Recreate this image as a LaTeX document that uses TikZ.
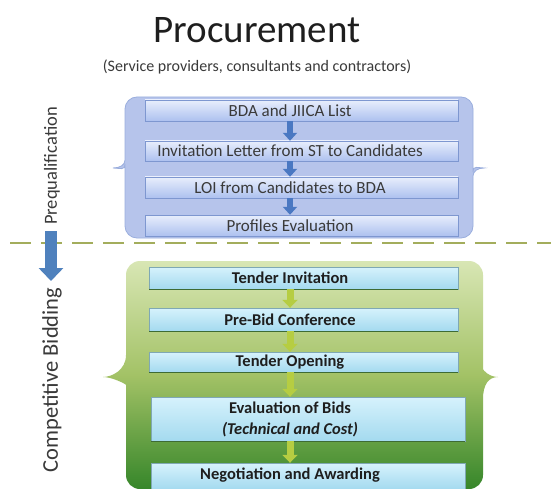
\documentclass[tikz,border=0pt]{standalone}
\usepackage{fontspec}
\setmainfont{Carlito}
\usetikzlibrary{arrows.meta}

\definecolor{inkdark}{HTML}{1E1E1E}
\definecolor{inkgray}{HTML}{3A3A3A}
\definecolor{bluepanel}{HTML}{B6C4EB}
\definecolor{bluepaneledge}{HTML}{9AAEDD}
\definecolor{boxtop}{HTML}{E8EEFC}
\definecolor{boxbot}{HTML}{ADC1EF}
\definecolor{boxedge}{HTML}{7E97D0}
\definecolor{stepblue}{HTML}{4A78C2}
\definecolor{dashgreen}{HTML}{A3AD5C}
\definecolor{bigblue}{HTML}{4F81BD}
\definecolor{greentop}{HTML}{D8E6B4}
\definecolor{greenmid}{HTML}{A3C266}
\definecolor{greenbot}{HTML}{36862A}
\definecolor{cyantop}{HTML}{D6F2FC}
\definecolor{cyanbot}{HTML}{A4DAEF}
\definecolor{cyanedge}{HTML}{7FA8B4}
\definecolor{shadowgreen}{HTML}{3E6B34}
\definecolor{stepgreen}{HTML}{B6CD42}

\tikzset{
  titletext/.style={inner sep=0pt, text=inkdark, font=\fontsize{39}{39}\selectfont},
  subtext/.style={inner sep=0pt, text=inkgray, font=\fontsize{16}{16}\selectfont},
  sidelabel/.style={rotate=90, inner sep=0pt, text=inkgray},
  bluetext/.style={inner sep=0pt, text=inkgray, font=\fontsize{17}{17}\selectfont},
  greentext/.style={inner sep=0pt, text=inkdark, align=center, font=\fontsize{16.5}{21}\selectfont\bfseries},
  bluepanelstyle/.style={fill=bluepanel, draw=bluepaneledge, line width=0.8pt},
  greenpanelstyle/.style={top color=greentop, bottom color=greenbot, middle color=greenmid},
  bluebox/.style={top color=boxtop, bottom color=boxbot, draw=boxedge, line width=0.6pt},
  cyanbox/.style={top color=cyantop, bottom color=cyanbot, draw=cyanedge, line width=0.5pt},
  boxshadow/.style={draw=shadowgreen, line width=1.3pt},
  bluestep/.style={draw=stepblue, line width=6pt, -{Triangle[width=14pt,length=8pt]}},
  greenstep/.style={draw=stepgreen, line width=7pt, -{Triangle[width=15pt,length=8pt]}},
  phasearrow/.style={draw=bigblue, line width=12pt, -{Triangle[width=24pt,length=13pt]}},
  divider/.style={draw=dashgreen, line width=2.5pt, dash pattern=on 21pt off 10pt},
}

\begin{document}
\begin{tikzpicture}[x=1pt, y=-1pt]
\useasboundingbox (0,0) rectangle (551,489);
\fill[white] (0,0) rectangle (551,489);

% heading
\node[titletext, anchor=base] (title) at (257,43) {Procurement};
\node[subtext, anchor=base] (subtitle) at (257,72) {(Service providers, consultants and contractors)};

% prequalification panel with brace points
\path[bluepanelstyle] (125,160) [rounded corners=12pt] -- (125,97) -- (473,97) -- (473,160) [sharp corners]
  .. controls (473,165) and (478,168) .. (484,168)
  .. controls (478,168) and (473,171) .. (473,176) [rounded corners=12pt]
  -- (473,238) -- (125,238) -- (125,176) [sharp corners]
  .. controls (125,171) and (120,168) .. (113,168)
  .. controls (120,168) and (125,165) .. (125,160) -- cycle;

% competitive bidding panel with brace points
\path[greenpanelstyle] (126,355) [rounded corners=14pt] -- (126,261) -- (483,261) -- (483,355) [sharp corners]
  .. controls (483,370) and (489,377) .. (498,377)
  .. controls (489,377) and (483,384) .. (483,399) [rounded corners=14pt]
  -- (483,489) -- (126,489) -- (126,399) [sharp corners]
  .. controls (126,384) and (112,377) .. (103,377)
  .. controls (112,377) and (126,370) .. (126,355) -- cycle;

% prequalification step boxes
\path[bluebox] (145,100) rectangle (458,121);
\path[bluebox] (145,141) rectangle (458,161);
\path[bluebox] (145,177) rectangle (458,198);
\path[bluebox] (145,215) rectangle (458,236);

% bidding step boxes
\path[cyanbox] (149,267) rectangle (458,289);
\draw[boxshadow] (149,289.5) -- (458,289.5);
\path[cyanbox] (149,308) rectangle (458,331);
\draw[boxshadow] (149,331.5) -- (458,331.5);
\path[cyanbox] (149,352) rectangle (458,372);
\draw[boxshadow] (149,372.5) -- (458,372.5);
\path[cyanbox] (151,397) rectangle (465,441);
\draw[boxshadow] (151,441.5) -- (465,441.5);
\path[cyanbox] (151,463) rectangle (465,489);

% step labels
\node[bluetext, minimum height=21pt] (b1) at (290,110.5) {BDA and JIICA List};
\node[bluetext, minimum height=20pt] (b2) at (290,151) {Invitation Letter from ST to Candidates};
\node[bluetext, minimum height=21pt] (b3) at (290,187.5) {LOI from Candidates to BDA};
\node[bluetext, minimum height=21pt] (b4) at (290,225.5) {Profiles Evaluation};

\node[greentext, minimum height=22pt] (g1) at (290,278) {Tender Invitation};
\node[greentext, minimum height=23pt] (g2) at (290,319.5) {Pre-Bid Conference};
\node[greentext, minimum height=20pt] (g3) at (290,362) {Tender Opening};
\node[greentext, minimum height=44pt] (g4) at (290,419) {Evaluation of Bids\\\textit{(Technical and Cost)}};
\node[greentext, minimum height=25pt] (g5) at (290,475.5) {Negotiation and Awarding};

% flow arrows
\draw[bluestep] (b1.south) -- (b2.north);
\draw[bluestep] (b2.south) -- (b3.north);
\draw[bluestep] (b3.south) -- (b4.north);

\draw[greenstep] (g1.south) -- (g2.north);
\draw[greenstep] (g2.south) -- (g3.north);
\draw[greenstep] (g3.south) -- (g4.north);
\draw[greenstep] (g4.south) -- (g5.north);

% phase divider
\coordinate (divleft) at (10,243);
\coordinate (divright) at (551,243);
\draw[divider] (divleft) -- (divright);

% phase labels and transition arrow
\node[sidelabel, font=\fontsize{18.5}{18.5}\selectfont] (prequal) at (52,166) {Prequalification};
\node[sidelabel, font=\fontsize{22.5}{22.5}\selectfont] (bidding) at (52,380) {Competitive Bidding};
\coordinate (phasetop) at (51,231);
\coordinate (phasebot) at (51,281);
\draw[phasearrow] (phasetop) -- (phasebot);
\end{tikzpicture}
\end{document}
